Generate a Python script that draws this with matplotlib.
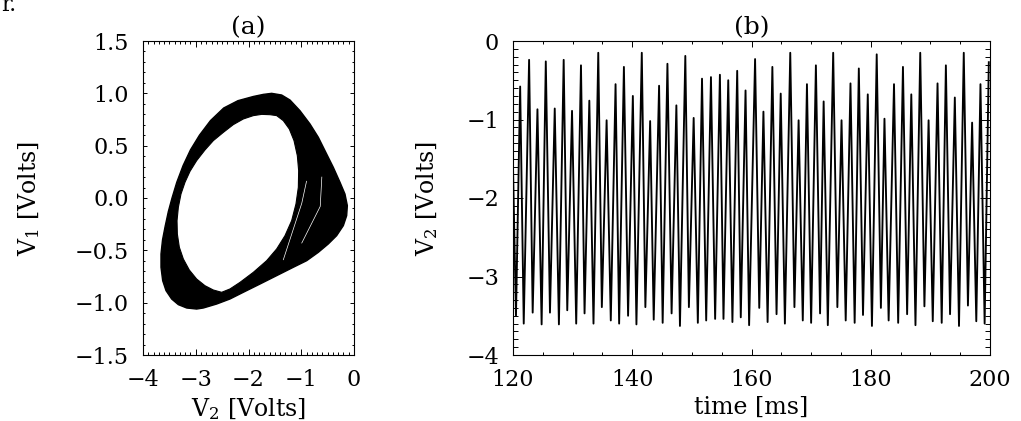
import numpy as np
import matplotlib
matplotlib.use("Agg")
import matplotlib.pyplot as plt
from matplotlib.ticker import MultipleLocator

plt.rcParams['font.family'] = ['DejaVu Serif']
plt.rcParams['mathtext.fontset'] = 'dejavuserif'

# (a) attractor band in the (V2, V1) plane: outer edge and inner hole
outer_v2 = [-1.908, -1.719, -1.561, -1.371, -1.213, -1.024, -0.834, -0.676,
            -0.518, -0.392, -0.265, -0.171, -0.126, -0.139, -0.202, -0.329,
            -0.487, -0.676, -0.897, -1.150, -1.466, -1.782, -2.098, -2.351,
            -2.603, -2.856, -2.983, -3.172, -3.330, -3.457, -3.564, -3.627,
            -3.659, -3.659, -3.630, -3.580, -3.520, -3.450, -3.360, -3.240,
            -3.100, -2.930, -2.720, -2.470, -2.200]
outer_v1 = [0.970, 0.990, 1.000, 0.984, 0.936, 0.834, 0.707, 0.580,
            0.420, 0.293, 0.150, 0.038, -0.073, -0.169, -0.264, -0.360,
            -0.439, -0.519, -0.599, -0.662, -0.742, -0.822, -0.901, -0.965,
            -1.013, -1.051, -1.061, -1.051, -1.019, -0.965, -0.885, -0.790,
            -0.662, -0.535, -0.400, -0.270, -0.130, 0.000, 0.150, 0.310,
            0.460, 0.600, 0.740, 0.860, 0.930]
inner_v2 = [-1.592, -1.750, -1.908, -2.098, -2.288, -2.477, -2.667, -2.825,
            -2.983, -3.109, -3.204, -3.280, -3.330, -3.355, -3.349, -3.311,
            -3.235, -3.122, -2.983, -2.825, -2.667, -2.509, -2.351, -2.161,
            -1.908, -1.656, -1.466, -1.308, -1.182, -1.100, -1.055, -1.049,
            -1.074, -1.137, -1.226, -1.340, -1.466]
inner_v1 = [0.796, 0.799, 0.787, 0.755, 0.701, 0.627, 0.548, 0.459,
            0.357, 0.255, 0.150, 0.038, -0.089, -0.217, -0.344, -0.471,
            -0.583, -0.688, -0.774, -0.838, -0.879, -0.901, -0.869, -0.806,
            -0.710, -0.599, -0.487, -0.360, -0.217, -0.057, 0.102, 0.261,
            0.404, 0.548, 0.659, 0.739, 0.787]
# thin gaps between strands on the right side of the band
gap1_v2 = [-0.90, -0.99, -1.34]
gap1_v1 = [0.16, -0.05, -0.59]
gap2_v2 = [-0.61, -0.64, -0.99]
gap2_v1 = [0.20, -0.08, -0.43]

# (b) V2 time series: successive extrema (time in ms, voltage in V)
t_ext = [120.0, 120.5,
         121.2, 121.8, 122.7, 123.3, 124.1, 124.8, 125.5, 126.2, 127.0, 127.7,
         128.5, 129.1, 129.9, 130.6, 131.4, 132.0, 132.8, 133.5, 134.3, 134.9,
         135.7, 136.4, 137.2, 137.8, 138.6, 139.3, 140.1, 140.7, 141.6, 142.2,
         143.0, 143.6, 144.5, 145.1, 145.9, 146.6, 147.4, 148.0, 148.9, 149.5,
         150.3, 151.0, 151.7, 152.4, 153.2, 153.9, 154.7, 155.3, 156.1, 156.8,
         157.6, 158.2, 159.0, 159.6, 160.6, 161.3, 162.0, 162.7, 163.5, 164.2,
         164.9, 165.6, 166.5, 167.2, 167.9, 168.6, 169.3, 170.0, 170.8, 171.5,
         172.1, 172.8, 173.7, 174.4, 175.1, 175.8, 176.6, 177.3, 178.0, 178.7,
         179.5, 180.2, 181.0, 181.7, 182.3, 183.0, 183.9, 184.6, 185.4, 186.1,
         186.8, 187.5, 188.3, 189.0, 189.7, 190.4, 191.2, 191.9, 192.6, 193.3,
         194.1, 194.8, 195.6, 196.3, 197.0, 197.7, 198.4, 199.1, 199.8]
v_ext = [-1.60, -3.50,
         -0.58, -3.60, -0.24, -3.46, -0.87, -3.61, -0.26, -3.46, -0.86, -3.61,
         -0.24, -3.43, -0.89, -3.60, -0.31, -3.47, -0.76, -3.60, -0.15, -3.39,
         -1.01, -3.56, -0.55, -3.60, -0.33, -3.50, -0.70, -3.61, -0.15, -3.39,
         -1.02, -3.55, -0.57, -3.59, -0.29, -3.47, -0.82, -3.63, -0.19, -3.39,
         -0.98, -3.59, -0.48, -3.56, -0.46, -3.54, -0.43, -3.54, -0.50, -3.58,
         -0.38, -3.52, -0.63, -3.62, -0.23, -3.40, -0.90, -3.58, -0.33, -3.48,
         -0.67, -3.60, -0.15, -3.39, -1.01, -3.56, -0.55, -3.59, -0.31, -3.47,
         -0.77, -3.62, -0.15, -3.39, -1.01, -3.56, -0.54, -3.59, -0.35, -3.49,
         -0.68, -3.63, -0.17, -3.40, -0.99, -3.56, -0.55, -3.59, -0.33, -3.48,
         -0.68, -3.62, -0.15, -3.38, -1.01, -3.57, -0.54, -3.59, -0.31, -3.48,
         -0.72, -3.63, -0.15, -3.37, -1.04, -3.57, -0.55, -3.60, -0.27]

fig = plt.figure(figsize=(10.21, 4.21), dpi=100)
ax1 = fig.add_axes([143 / 1021, 66 / 421, 211 / 1021, 314 / 421])
ax2 = fig.add_axes([513 / 1021, 66 / 421, 477 / 1021, 314 / 421])

# band: fill outer edge black, then punch the hole
ax1.fill(outer_v2, outer_v1, color='black', lw=1.0, ec='black')
ax1.fill(inner_v2, inner_v1, color='white', lw=0.8, ec='black')
ax1.plot(gap1_v2, gap1_v1, color='white', lw=0.5)
ax1.plot(gap2_v2, gap2_v1, color='white', lw=0.5)

ax2.plot(t_ext, v_ext, color='black', lw=1.35, solid_joinstyle='round')

ax1.set_xlim(-4, 0)
ax1.set_ylim(-1.5, 1.5)
ax1.xaxis.set_major_locator(MultipleLocator(1))
ax1.xaxis.set_minor_locator(MultipleLocator(0.1))
ax1.yaxis.set_major_locator(MultipleLocator(0.5))
ax1.yaxis.set_minor_locator(MultipleLocator(0.1))
ax1.yaxis.set_major_formatter(lambda v, p: f'{v:.1f}'.replace('-', '\u2212'))

ax2.set_xlim(120, 200)
ax2.set_ylim(-4, 0)
ax2.xaxis.set_major_locator(MultipleLocator(20))
ax2.xaxis.set_minor_locator(MultipleLocator(5))
ax2.yaxis.set_major_locator(MultipleLocator(1))
ax2.yaxis.set_minor_locator(MultipleLocator(0.1))

for ax, ylen in ((ax1, 3.0), (ax2, 6.9)):
    for s in ax.spines.values():
        s.set_linewidth(0.8)
    ax.tick_params(which='both', direction='in', top=True, right=True,
                   width=0.7, labelsize=16)
    ax.tick_params(axis='x', which='major', length=4.5, pad=10)
    ax.tick_params(axis='x', which='minor', length=2.2)
    ax.tick_params(axis='y', which='major', length=ylen, pad=10)
    ax.tick_params(axis='y', which='minor', length=ylen / 2)

ax1.set_title('(a)', fontsize=18, pad=5)
ax2.set_title('(b)', fontsize=18, pad=5)
ax1.set_xlabel('V$_2$ [Volts]', fontsize=17)
ax1.set_ylabel('V$_1$ [Volts]', fontsize=17)
ax2.set_xlabel('time [ms]', fontsize=17)
ax2.set_ylabel('V$_2$ [Volts]', fontsize=17)
ax1.xaxis.set_label_coords(0.5, -0.13)
ax2.xaxis.set_label_coords(0.5, -0.13)
ax1.yaxis.set_label_coords(-0.48, 0.5)
ax2.yaxis.set_label_coords(-0.153, 0.5)

fig.text(0.001, 1 - 11 / 421, 'r.', fontsize=16, va='baseline')

fig.savefig('out.png', dpi=100)
